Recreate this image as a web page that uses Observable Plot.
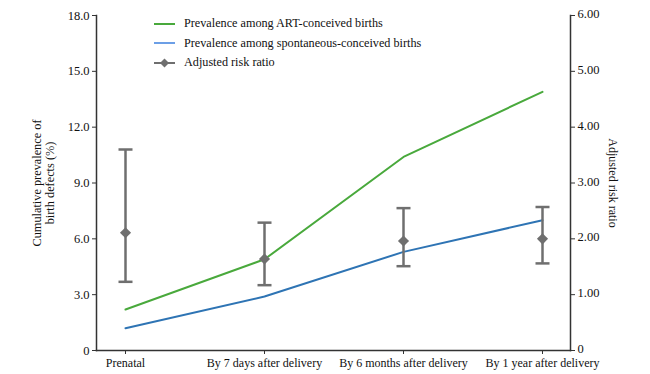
<!DOCTYPE html>
<html>
<head>
<meta charset="utf-8">
<script src="https://cdn.jsdelivr.net/npm/d3@7"></script>
<script src="https://cdn.jsdelivr.net/npm/@observablehq/plot@0.6"></script>
<style>
  html, body { margin: 0; padding: 0; background: #fff; }
  #wrap { position: relative; width: 650px; height: 374px; font-family: "Liberation Serif", "Times New Roman", serif; }
  #legend { position: absolute; left: 154px; top: 14px; font-size: 12.2px; color: #111; }
  .item { display: flex; align-items: center; height: 19.5px; }
  .item svg { margin-right: 8px; }
</style>
</head>
<body>
<div id="wrap">
  <div id="chart"></div>
  <div id="legend"></div>
</div>
<script>
const categories = ["Prenatal", "By 7 days after delivery", "By 6 months after delivery", "By 1 year after delivery"];
const artPrevalence = [2.2, 4.9, 10.4, 13.9];
const spontPrevalence = [1.2, 2.9, 5.3, 7.0];
const riskRatio = [2.11, 1.64, 1.96, 2.0];
const riskLower = [1.23, 1.17, 1.51, 1.56];
const riskUpper = [3.6, 2.29, 2.55, 2.57];
const leftTicks = [0, 3, 6, 9, 12, 15, 18];
const rightTicks = [0, 1, 2, 3, 4, 5, 6];

const ratioToLeft = 18 / 6; // right axis 0–6 shares the left axis 0–18 range

const green = "#49a93c";
const blue = "#2e74b4";
const gray = "#6f6f6f";
const axisColor = "#333";

const art = categories.map((c, i) => ({cat: c, v: artPrevalence[i]}));
const spont = categories.map((c, i) => ({cat: c, v: spontPrevalence[i]}));
const rr = categories.map((c, i) => ({cat: c, rr: riskRatio[i] * ratioToLeft, lo: riskLower[i] * ratioToLeft, hi: riskUpper[i] * ratioToLeft}));

const capSymbol = { draw(context) { context.moveTo(-7, 0); context.lineTo(7, 0); } };
const rightTickValues = rightTicks.map(t => t * ratioToLeft);

const chart = Plot.plot({
  width: 650,
  height: 374,
  marginLeft: 96,
  marginRight: 80,
  marginTop: 15,
  marginBottom: 24,
  style: { fontFamily: "Liberation Serif, Times New Roman, serif", fontSize: "12px", color: "#111", background: "#fff" },
  x: { type: "point", domain: categories, padding: 0.205 },
  y: { domain: [0, 18] },
  marks: [
    Plot.frame({ anchor: "left", stroke: axisColor, strokeWidth: 1.5 }),
    Plot.frame({ anchor: "bottom", stroke: axisColor, strokeWidth: 1.5 }),
    Plot.frame({ anchor: "right", stroke: axisColor, strokeWidth: 1.5 }),
    Plot.axisX({ anchor: "bottom", tickSize: 4, tickPadding: 4, label: null, stroke: axisColor, fontSize: 12 }),
    Plot.axisY({ anchor: "left", ticks: leftTicks, tickSize: 4, tickPadding: 3, label: null, stroke: axisColor, fontSize: 12.5,
      tickFormat: d => d === 0 ? "0" : d.toFixed(1) }),
    Plot.axisY({ anchor: "right", ticks: rightTickValues, tickSize: 4, text: null, label: null, stroke: axisColor }),
    Plot.axisY({ anchor: "right", ticks: rightTickValues, tickSize: 0, tickPadding: 7, dy: -1.5, label: null, fontSize: 12.5,
      tickFormat: d => d === 0 ? "0" : (d / ratioToLeft).toFixed(2) }),
    Plot.text(["Cumulative prevalence of\nbirth defects (%)"], { frameAnchor: "left", dx: -53, rotate: -90, textAnchor: "middle", fontSize: 12.3, lineHeight: 1.05, fill: "#111" }),
    Plot.text(["Adjusted risk ratio"], { frameAnchor: "right", dx: 42, rotate: 90, textAnchor: "middle", fontSize: 12, fill: "#111" }),
    Plot.line(art, { x: "cat", y: "v", stroke: green, strokeWidth: 2 }),
    Plot.line(spont, { x: "cat", y: "v", stroke: blue, strokeWidth: 2 }),
    Plot.ruleX(rr, { x: "cat", y1: "lo", y2: "hi", stroke: gray, strokeWidth: 2.5 }),
    Plot.dot(rr, { x: "cat", y: "lo", symbol: capSymbol, stroke: gray, strokeWidth: 2.5, fill: "none" }),
    Plot.dot(rr, { x: "cat", y: "hi", symbol: capSymbol, stroke: gray, strokeWidth: 2.5, fill: "none" }),
    Plot.dot(rr, { x: "cat", y: "rr", symbol: "diamond2", r: 5, fill: gray, stroke: "none" })
  ]
});
document.getElementById("chart").appendChild(chart);

const legendItems = [
  { label: "Prevalence among ART-conceived births", color: green, marker: false },
  { label: "Prevalence among spontaneous-conceived births", color: "#6c9fe6", marker: false },
  { label: "Adjusted risk ratio", color: gray, marker: true }
];
const legend = d3.select("#legend");
legendItems.forEach(it => {
  const row = legend.append("div").attr("class", "item");
  const s = row.append("svg").attr("width", 22).attr("height", 12);
  s.append("line").attr("x1", 0).attr("x2", 21).attr("y1", 6).attr("y2", 6).attr("stroke", it.color).attr("stroke-width", 2);
  if (it.marker) s.append("path").attr("d", "M10.5,1.5L15,6L10.5,10.5L6,6Z").attr("fill", it.color);
  row.append("span").text(it.label);
});
</script>
</body>
</html>
